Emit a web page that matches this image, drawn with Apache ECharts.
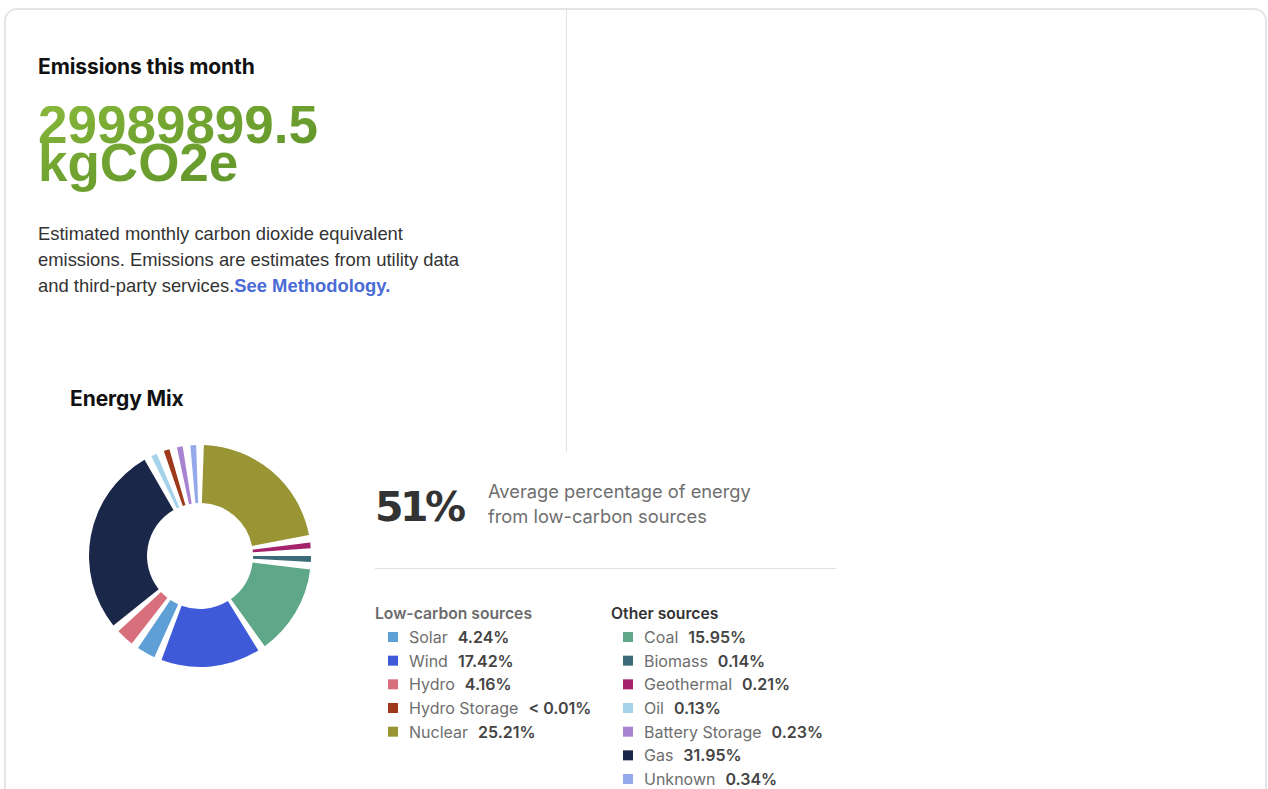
<!DOCTYPE html>
<html>
<head>
<meta charset="utf-8">
<script src="https://cdn.jsdelivr.net/npm/echarts@6/dist/echarts.min.js"></script>
<style>
  html, body { margin: 0; padding: 0; background: #fff; }
  body { width: 1268px; height: 789px; overflow: hidden; position: relative; }
  #card { position: absolute; left: 4px; top: 8px; width: 1263px; height: 900px; box-sizing: border-box;
          border: 2px solid #e3e5e9; border-radius: 13px; }
  #divider { position: absolute; left: 566px; top: 10px; width: 1px; height: 442px; background: #e2e2e2; }
  #chart { position: absolute; left: 0; top: 0; width: 1268px; height: 789px; z-index: 1; }
  .t { position: absolute; z-index: 2; white-space: nowrap; }
  #h1 { left: 38px; top: 55px; font: 700 21px/24px Inter, sans-serif; color: #111; letter-spacing: -0.1px; }
  #big { left: 38px; top: 106px; padding-bottom: 14px; font: 700 53px/38px "Liberation Sans", Arial, sans-serif;
         background: linear-gradient(160deg, #88b83b 0%, #70a330 40%, #5a8f28 100%);
         -webkit-background-clip: text; background-clip: text; color: transparent; }
  #desc { left: 38px; top: 220.5px; font: 400 18.4px/26px "Liberation Sans", Arial, sans-serif; color: #333; }
  #desc b { color: #4a6bd6; font-weight: 700; }
  #h2 { left: 70px; top: 386.7px; font: 700 21px/24px Inter, sans-serif; color: #111; letter-spacing: -0.1px; }
  #share { left: 375px; top: 482px; font: 700 41px/50px "DejaVu Sans", sans-serif; color: #333; letter-spacing: -3.5px; }
  #shareTxt { left: 488px; top: 479.3px; font: 400 18.3px/25px Inter, sans-serif; color: #6e6e6e; }
  #rule { position: absolute; left: 375px; top: 568px; width: 461px; height: 1px; background: #e0e0e0; z-index: 2; }
  #lowHead { left: 375px; top: 603.5px; font: 600 15.7px/20px Inter, sans-serif; color: #6b6b6b; }
  #otherHead { left: 611px; top: 603.5px; font: 600 15.7px/20px Inter, sans-serif; color: #333; }
</style>
</head>
<body>
<div id="card"></div>
<div id="divider"></div>
<div id="chart"></div>
<div class="t" id="h1"></div>
<div class="t" id="big"></div>
<div class="t" id="desc">Estimated monthly carbon dioxide equivalent<br>emissions. Emissions are estimates from utility data<br>and third-party services.<b>See Methodology.</b></div>
<div class="t" id="h2"></div>
<div class="t" id="share"></div>
<div class="t" id="shareTxt">Average percentage of energy<br>from low-carbon sources</div>
<div id="rule"></div>
<div class="t" id="lowHead"></div>
<div class="t" id="otherHead"></div>
<script>
// ---- data ----
const headerTitle = 'Emissions this month';
const emissionsValue = '29989899.5';
const emissionsUnit = 'kgCO2e';
const chartTitle = 'Energy Mix';
const lowCarbonShare = 51;
const lowCarbonTitle = 'Low-carbon sources';
const otherTitle = 'Other sources';
const lowCarbonNames = ['Solar', 'Wind', 'Hydro', 'Hydro Storage', 'Nuclear'];
const lowCarbonValues = [4.24, 17.42, 4.16, 0.005, 25.21];
const otherNames = ['Coal', 'Biomass', 'Geothermal', 'Oil', 'Battery Storage', 'Gas', 'Unknown'];
const otherValues = [15.95, 0.14, 0.21, 0.13, 0.23, 31.95, 0.34];
const pieOrder = ['Nuclear', 'Geothermal', 'Biomass', 'Coal', 'Wind', 'Solar', 'Hydro', 'Gas', 'Oil', 'Hydro Storage', 'Battery Storage', 'Unknown'];

// ---- styles ----
const sourceColors = {
  'Solar': '#5e9fd6', 'Wind': '#3f5ad9', 'Hydro': '#d86f7c', 'Hydro Storage': '#9e3a1b', 'Nuclear': '#999534',
  'Coal': '#5ea889', 'Biomass': '#3b6a78', 'Geothermal': '#a3226b', 'Oil': '#a3d2ea',
  'Battery Storage': '#a783d2', 'Gas': '#1a2749', 'Unknown': '#93a9ea'
};

document.getElementById('h1').textContent = headerTitle;
document.getElementById('big').innerHTML = emissionsValue + '<br>' + emissionsUnit;
document.getElementById('h2').textContent = chartTitle;
document.getElementById('share').textContent = lowCarbonShare + '%';
document.getElementById('lowHead').textContent = lowCarbonTitle;
document.getElementById('otherHead').textContent = otherTitle;

const valueOf = {};
lowCarbonNames.forEach((n, i) => valueOf[n] = lowCarbonValues[i]);
otherNames.forEach((n, i) => valueOf[n] = otherValues[i]);
const fmt = v => v < 0.01 ? '< 0.01%' : v.toFixed(2) + '%';

const pieData = pieOrder.map(n => ({ name: n, value: valueOf[n], itemStyle: { color: sourceColors[n] } }));

const legendBase = {
  orient: 'vertical', icon: 'rect', itemWidth: 10, itemHeight: 10, itemGap: 7.67, padding: 0,
  selectedMode: false, top: 629,
  formatter: name => '{n|' + name + '}{v|' + fmt(valueOf[name]) + '}',
  textStyle: {
    rich: {
      n: { fontFamily: 'Inter', fontSize: 16, color: '#6e6e6e', padding: [0, 0, 0, 6] },
      v: { fontFamily: 'Inter', fontSize: 16, fontWeight: 600, color: '#444', padding: [0, 0, 0, 10] }
    }
  }
};

const chart = echarts.init(document.getElementById('chart'), null, { renderer: 'svg', width: 1268, height: 789 });
chart.setOption({
  animation: false,
  legend: [
    Object.assign({}, legendBase, { left: 388, data: lowCarbonNames }),
    Object.assign({}, legendBase, { left: 623, data: otherNames })
  ],
  series: [{
    type: 'pie',
    center: [200, 556],
    radius: [53, 111],
    startAngle: 90,
    clockwise: true,
    padAngle: 4,
    minAngle: 3,
    avoidLabelOverlap: false,
    label: { show: false },
    labelLine: { show: false },
    emphasis: { disabled: true },
    silent: true,
    data: pieData
  }]
});
</script>
</body>
</html>
